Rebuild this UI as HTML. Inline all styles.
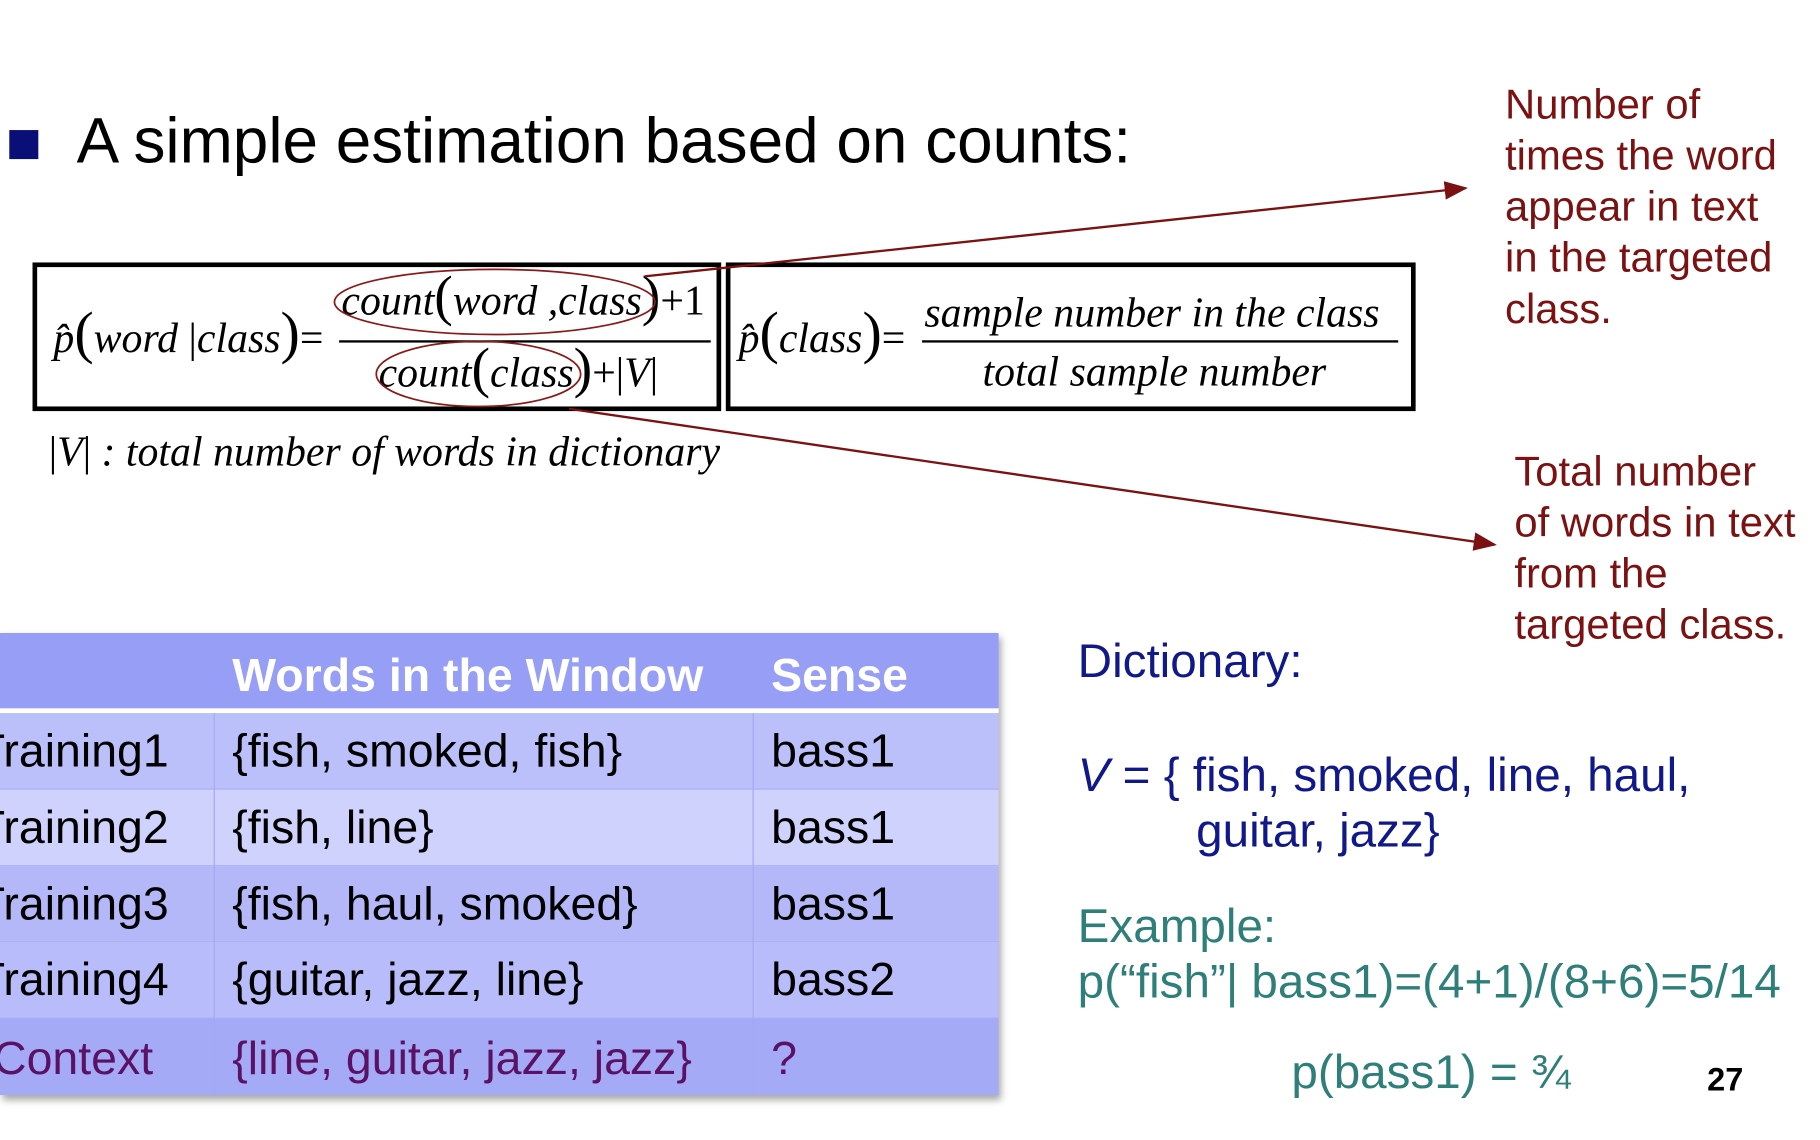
<!DOCTYPE html>
<html><head><meta charset="utf-8">
<style>
html,body{margin:0;padding:0;background:#fff;overflow:hidden;width:1820px;height:1140px}
#wrap{position:absolute;left:0;top:0;width:1567px;height:982px;transform:scale(1.1613);transform-origin:0 0;font-family:"Liberation Sans",sans-serif}
.a{position:absolute;white-space:nowrap}
.m{font-family:"Liberation Serif",serif;font-style:italic;font-size:36px;color:#000}
.red{color:#7b1111;font-size:36px;line-height:44px}
.cell{position:absolute;font-size:40px;line-height:66px;white-space:nowrap}
.rt{font-size:41px}
</style></head><body>
<div id="wrap">
<div class="a" style="left:8px;top:112px;width:25px;height:25px;background:#0a0f78"></div>
<div class="a" style="left:66px;top:88px;font-size:55px;line-height:66px">A simple estimation based on counts:</div>

<div class="a" style="left:28px;top:226px;width:585px;height:120px;border:4px solid #000"></div>
<div class="a" style="left:625px;top:226px;width:586px;height:120px;border:4px solid #000"></div>

<div class="a m" style="left:46px;top:268px">p̂<span style="font-size:50px;font-style:normal;line-height:36px">(</span>word <span style="font-style:normal">|</span>class<span style="font-size:50px;font-style:normal;line-height:36px">)</span><span style="font-style:normal">=</span></div>
<div class="a m" style="left:294px;top:238px">count<span style="font-size:48px;font-style:normal;line-height:36px">(</span>word ,class<span style="font-size:48px;font-style:normal;line-height:36px">)</span><span style="font-style:normal">+1</span></div>
<div class="a" style="left:292px;top:293px;width:320px;height:2px;background:#000"></div>
<div class="a m" style="left:326px;top:300px">count<span style="font-size:48px;font-style:normal;line-height:36px">(</span>class<span style="font-size:48px;font-style:normal;line-height:36px">)</span><span style="font-style:normal">+</span><span style="font-style:normal">|</span>V<span style="font-style:normal">|</span></div>

<div class="a m" style="left:636px;top:268px">p̂<span style="font-size:50px;font-style:normal;line-height:36px">(</span>class<span style="font-size:50px;font-style:normal;line-height:36px">)</span><span style="font-style:normal">=</span></div>
<div class="a m" style="left:796px;top:248px">sample number in the class</div>
<div class="a" style="left:794px;top:293px;width:410px;height:2px;background:#000"></div>
<div class="a m" style="left:846px;top:299px">total sample number</div>

<div class="a m" style="left:42px;top:368px"><span style="font-style:normal">|</span>V<span style="font-style:normal">|</span> : total number of  words in dictionary</div>

<svg class="a" style="left:0;top:0" width="1567" height="982">
<defs><marker id="ah" markerWidth="10" markerHeight="8" refX="9" refY="4" orient="auto"><path d="M0,0 L10,4 L0,8 z" fill="#7b1111"/></marker></defs>
<ellipse cx="426" cy="260" rx="138" ry="28" fill="none" stroke="#8a1a1a" stroke-width="1.5"/>
<ellipse cx="412" cy="322" rx="88" ry="28" fill="none" stroke="#8a1a1a" stroke-width="1.5"/>
<line x1="555" y1="238" x2="1262" y2="162" stroke="#7b1111" stroke-width="2" marker-end="url(#ah)"/>
<line x1="490" y1="352" x2="1287" y2="469" stroke="#7b1111" stroke-width="2" marker-end="url(#ah)"/>
</svg>

<div class="a red" style="left:1296px;top:68px">Number of<br>times the word<br>appear in text<br>in the targeted<br>class.</div>
<div class="a red" style="left:1304px;top:384px">Total number<br>of words in text<br>from the<br>targeted class.</div>

<div class="a" style="left:0;top:545px;width:860px;height:398px;box-shadow:2px 4px 6px rgba(0,0,0,0.35);overflow:hidden">
 <div class="a" style="left:0;top:0;width:860px;height:65px;background:#979ef5"></div>
 <div class="a" style="left:0;top:65px;width:860px;height:4px;background:#fff"></div>
 <div class="a" style="left:0;top:69px;width:860px;height:65px;background:#bcc0fa"></div>
 <div class="a" style="left:0;top:135px;width:860px;height:65px;background:#cfd2fc"></div>
 <div class="a" style="left:0;top:201px;width:860px;height:64px;background:#b4b8f9"></div>
 <div class="a" style="left:0;top:266px;width:860px;height:65px;background:#b8bcfa"></div>
 <div class="a" style="left:0;top:332px;width:860px;height:66px;background:#a5aaf7"></div>
 <div class="a" style="left:0;top:134px;width:860px;height:1px;background:#a3a8f5"></div>
 <div class="a" style="left:0;top:200px;width:860px;height:1px;background:#a3a8f5"></div>
 <div class="a" style="left:0;top:265px;width:860px;height:1px;background:#a3a8f5"></div>
 <div class="a" style="left:0;top:331px;width:860px;height:1px;background:#a3a8f5"></div>
 <div class="a" style="left:184px;top:69px;width:1px;height:329px;background:#a3a8f5"></div>
 <div class="a" style="left:648px;top:69px;width:1px;height:329px;background:#a3a8f5"></div>
 <div class="cell" style="left:200px;top:4px;color:#fff;font-weight:bold">Words in the Window</div>
 <div class="cell" style="left:664px;top:4px;color:#fff;font-weight:bold">Sense</div>
 <div class="cell" style="left:-20px;top:69px">Training1</div><div class="cell" style="left:200px;top:69px">{fish, smoked, fish}</div><div class="cell" style="left:664px;top:69px">bass1</div>
 <div class="cell" style="left:-20px;top:135px">Training2</div><div class="cell" style="left:200px;top:135px">{fish, line}</div><div class="cell" style="left:664px;top:135px">bass1</div>
 <div class="cell" style="left:-20px;top:201px">Training3</div><div class="cell" style="left:200px;top:201px">{fish, haul, smoked}</div><div class="cell" style="left:664px;top:201px">bass1</div>
 <div class="cell" style="left:-20px;top:266px">Training4</div><div class="cell" style="left:200px;top:266px">{guitar, jazz, line}</div><div class="cell" style="left:664px;top:266px">bass2</div>
 <div class="cell" style="left:-6px;top:334px;color:#5a1265">Context</div><div class="cell" style="left:200px;top:334px;color:#5a1265">{line, guitar, jazz, jazz}</div><div class="cell" style="left:664px;top:334px;color:#5a1265">?</div>
</div>

<div class="a rt" style="left:928px;top:546px;color:#10188a">Dictionary:</div>
<div class="a rt" style="left:928px;top:644px;color:#10188a"><i>V</i> = { fish, smoked, line, haul,</div>
<div class="a rt" style="left:1030px;top:692px;color:#10188a">guitar, jazz}</div>
<div class="a rt" style="left:928px;top:774px;color:#2e7f7a">Example:</div>
<div class="a rt" style="left:928px;top:822px;color:#2e7f7a">p(“fish”| bass1)=(4+1)/(8+6)=5/14</div>
<div class="a rt" style="left:1112px;top:900px;color:#2e7f7a">p(bass1) = ¾</div>
<div class="a" style="left:1470px;top:914px;font-size:28px;font-weight:bold">27</div>
</div>
</body></html>
